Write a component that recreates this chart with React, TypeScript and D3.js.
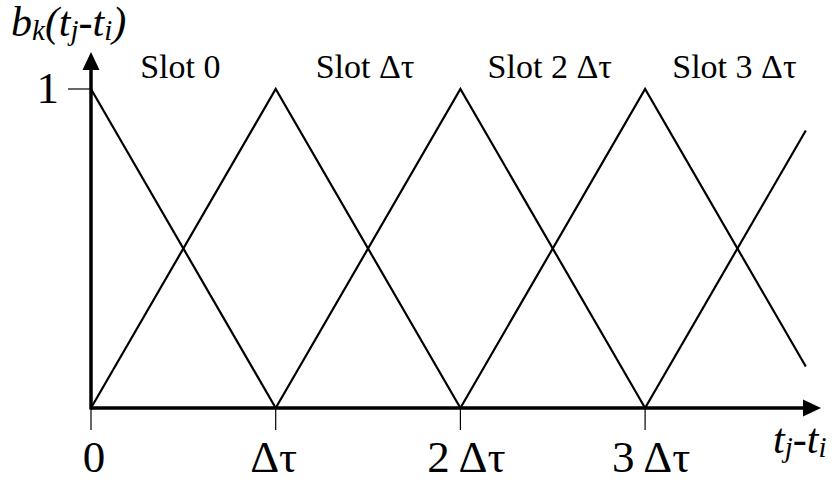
import React from "react";
import * as d3 from "d3";

// Triangular basis functions b_k(t) on a grid of width Δτ (one knot per slot)
const slotLabels = ["Slot 0", "Slot Δτ", "Slot 2 Δτ", "Slot 3 Δτ"];
const slotCenters = [0.5, 1.5, 2.5, 3.5];

const basis0: [number, number][] = [[0, 1], [1, 0]];
const basis1: [number, number][] = [[0, 0], [1, 1], [2, 0]];
const basis2: [number, number][] = [[1, 0], [2, 1], [3, 0]];
const basis3: [number, number][] = [[2, 0], [3, 1], [3.87, 0.13]];
const basis4: [number, number][] = [[3, 0], [3.87, 0.87]];
const basisSeries = [basis0, basis1, basis2, basis3, basis4];

const xTickValues = [0, 1, 2, 3];
const xTickLabels = ["0", "Δτ", "2 Δτ", "3 Δτ"];
const yTickValues = [1];
const yTickLabels = ["1"];

const W = 835;
const H = 482;

export default function App() {
  const x = d3.scaleLinear().domain([0, 4]).range([91, 829.8]);
  const y = d3.scaleLinear().domain([0, 1]).range([408, 89]);
  const line = d3
    .line<[number, number]>()
    .x((d) => x(d[0]))
    .y((d) => y(d[1]));

  const font = "'Liberation Serif', 'Times New Roman', serif";
  const x0 = x(0);
  const y0 = y(0);

  return (
    <svg
      width={W}
      height={H}
      viewBox={`0 0 ${W} ${H}`}
      style={{ position: "absolute", left: 0, top: 0, background: "#fff" }}
    >
      <rect width={W} height={H} fill="#fff" />

      {/* basis functions */}
      {basisSeries.map((s, i) => (
        <path key={i} d={line(s) ?? ""} fill="none" stroke="#000" strokeWidth={2.2} />
      ))}

      {/* x axis with arrow */}
      <line x1={x0} y1={y0} x2={803} y2={y0} stroke="#000" strokeWidth={3.5} />
      <path d={`M803,${y0 - 8.5} L821,${y0} L803,${y0 + 8.5} Z`} fill="#000" />

      {/* y axis with arrow */}
      <line x1={x0} y1={y0 + 1.5} x2={x0} y2={70} stroke="#000" strokeWidth={3.5} />
      <path d={`M${x0 - 8.5},70 L${x0},52 L${x0 + 8.5},70 Z`} fill="#000" />

      {/* x ticks */}
      {xTickValues.map((v, i) => (
        <g key={i}>
          <line x1={x(v)} y1={y0} x2={x(v)} y2={430} stroke="#000" strokeWidth={1.2} />
          <text
            x={x(v) + (i === 0 ? 3 : i === 1 ? -2 : 6)}
            y={472}
            textAnchor="middle"
            fontFamily={font}
            fontSize={45}
          >
            {xTickLabels[i]}
          </text>
        </g>
      ))}

      {/* y ticks */}
      {yTickValues.map((v, i) => (
        <g key={i}>
          <line x1={68} y1={y(v)} x2={x0} y2={y(v)} stroke="#000" strokeWidth={1.2} />
          <text x={59} y={y(v) + 14} textAnchor="end" fontFamily={font} fontSize={45}>
            {yTickLabels[i]}
          </text>
        </g>
      ))}

      {/* slot labels */}
      {slotLabels.map((s, i) => (
        <text
          key={i}
          x={x(slotCenters[i]) - 3}
          y={78}
          textAnchor="middle"
          fontFamily={font}
          fontSize={34}
        >
          {s}
        </text>
      ))}

      {/* y axis title */}
      <text x={11} y={36} fontFamily={font} fontStyle="italic" fontSize={42}>
        <tspan>b</tspan>
        <tspan fontSize={29} dy={4}>k</tspan>
        <tspan dy={-4}>(t</tspan>
        <tspan fontSize={29} dy={4}>j</tspan>
        <tspan dy={-4}>-t</tspan>
        <tspan fontSize={29} dy={4}>i</tspan>
        <tspan dy={-4}>)</tspan>
      </text>

      {/* x axis title */}
      <text x={773} y={453} fontFamily={font} fontStyle="italic" fontSize={42}>
        <tspan>t</tspan>
        <tspan fontSize={29} dy={4}>j</tspan>
        <tspan dy={-4}>-t</tspan>
        <tspan fontSize={29} dy={4}>i</tspan>
      </text>
    </svg>
  );
}
